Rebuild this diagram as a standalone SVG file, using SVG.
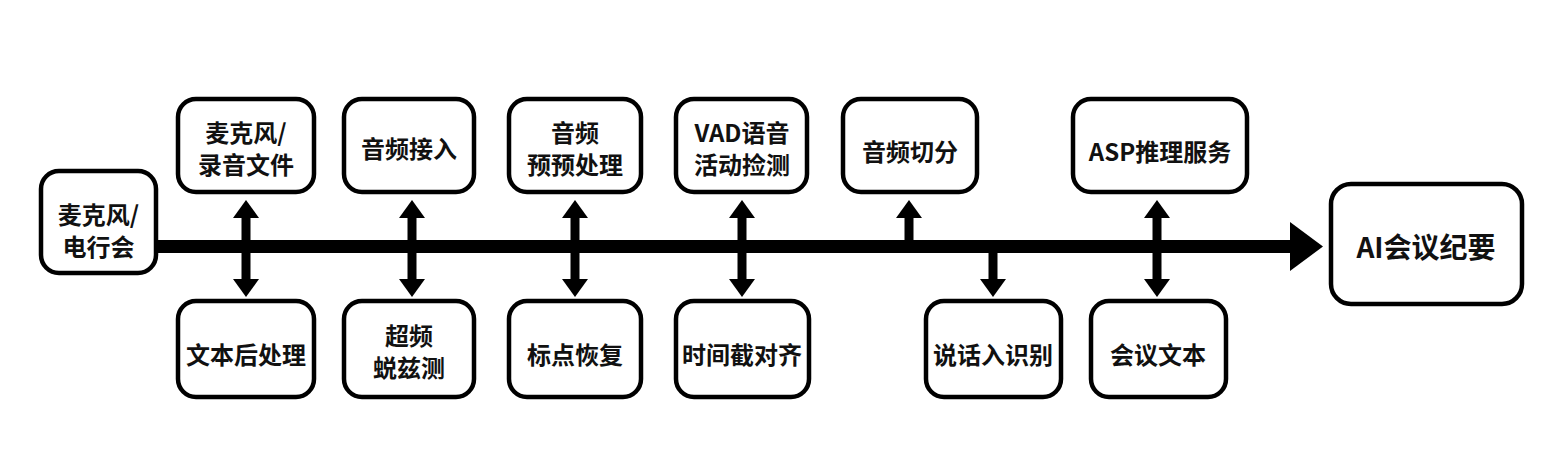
<svg xmlns="http://www.w3.org/2000/svg" width="1557" height="476" viewBox="0 0 1557 476">
<style>
.box{fill:#fff;stroke:#000;stroke-width:4.5}
.t{font-family:"Noto Sans CJK SC","Noto Sans",sans-serif;font-weight:700;font-size:24px;fill:#111;text-anchor:middle;dominant-baseline:central}
.big{font-size:28px}
.shaft{stroke:#000;stroke-width:9;fill:none}
.head{fill:#000}
</style>
<rect width="1557" height="476" fill="#fff"/>
<g id="connectors">
  <rect x="150" y="240" width="1142" height="13" fill="#000"/>
  <polygon class="head" points="1290,222 1323,246.5 1290,271"/>
  <g id="c1"><line class="shaft" x1="246" y1="215" x2="246" y2="281"/><polygon class="head" points="246,200 259,218 233,218"/><polygon class="head" points="246,297 259,279 233,279"/></g>
  <g id="c2"><line class="shaft" x1="412" y1="215" x2="412" y2="281"/><polygon class="head" points="412,200 425,218 399,218"/><polygon class="head" points="412,297 425,279 399,279"/></g>
  <g id="c3"><line class="shaft" x1="575" y1="215" x2="575" y2="281"/><polygon class="head" points="575,200 588,218 562,218"/><polygon class="head" points="575,297 588,279 562,279"/></g>
  <g id="c4"><line class="shaft" x1="742" y1="215" x2="742" y2="281"/><polygon class="head" points="742,200 755,218 729,218"/><polygon class="head" points="742,297 755,279 729,279"/></g>
  <g id="c5"><line class="shaft" x1="909" y1="215" x2="909" y2="243"/><polygon class="head" points="909,200 922,218 896,218"/></g>
  <g id="c6"><line class="shaft" x1="993" y1="250" x2="993" y2="281"/><polygon class="head" points="993,297 1006,279 980,279"/></g>
  <g id="c7"><line class="shaft" x1="1157" y1="215" x2="1157" y2="281"/><polygon class="head" points="1157,200 1170,218 1144,218"/><polygon class="head" points="1157,297 1170,279 1144,279"/></g>
</g>
<g id="n0"><rect class="box" x="41" y="171" width="115" height="102" rx="18"/><text class="t" x="98.5" y="213">麦克风/</text><text class="t" x="98.5" y="245">电行会</text></g>
<g id="n1"><rect class="box" x="178" y="99" width="136" height="93" rx="18"/><text class="t" x="246" y="131">麦克风/</text><text class="t" x="246" y="163">录音文件</text></g>
<g id="n2"><rect class="box" x="344" y="99" width="130" height="93" rx="18"/><text class="t" x="409" y="147">音频接入</text></g>
<g id="n3"><rect class="box" x="509" y="99" width="132" height="93" rx="18"/><text class="t" x="575" y="131">音频</text><text class="t" x="575" y="163">预预处理</text></g>
<g id="n4"><rect class="box" x="676" y="99" width="131" height="93" rx="18"/><text class="t" x="742" y="131">VAD语音</text><text class="t" x="742" y="163">活动捡测</text></g>
<g id="n5"><rect class="box" x="843" y="99" width="134" height="93" rx="18"/><text class="t" x="910" y="150">音频切分</text></g>
<g id="n6"><rect class="box" x="1073" y="99" width="174" height="93" rx="18"/><text class="t" x="1160" y="150">ASP推理服务</text></g>
<g id="n7"><rect class="box" x="178" y="301" width="136" height="96" rx="18"/><text class="t" x="246" y="353">文本后处理</text></g>
<g id="n8"><rect class="box" x="344" y="301" width="130" height="96" rx="18"/><text class="t" x="409" y="334">超频</text><text class="t" x="409" y="366">蜕兹测</text></g>
<g id="n9"><rect class="box" x="509" y="301" width="132" height="96" rx="18"/><text class="t" x="575" y="353">标点恢复</text></g>
<g id="n10"><rect class="box" x="676" y="301" width="133" height="96" rx="18"/><text class="t" x="742" y="353">时间截对齐</text></g>
<g id="n11"><rect class="box" x="926" y="301" width="135" height="96" rx="18"/><text class="t" x="993" y="353">说话入识别</text></g>
<g id="n12"><rect class="box" x="1091" y="301" width="135" height="96" rx="18"/><text class="t" x="1158" y="353">会议文本</text></g>
<g id="n13"><rect class="box" x="1331" y="184" width="191" height="120" rx="20"/><text class="t big" x="1426" y="246">AI会议纪要</text></g>
</svg>
